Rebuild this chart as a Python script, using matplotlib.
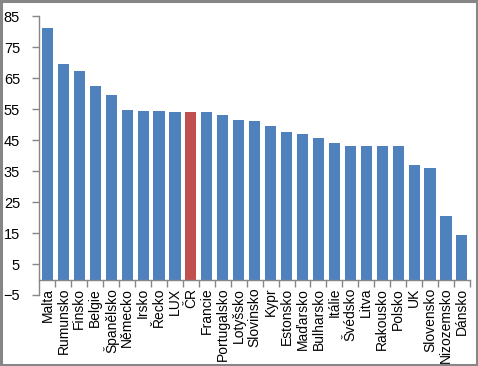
import matplotlib.pyplot as plt
from matplotlib.patches import Rectangle
from matplotlib.ticker import FixedLocator

plt.rcParams['font.family'] = ['Liberation Sans', 'DejaVu Sans']

# země a hodnoty
zeme = ['Malta', 'Rumunsko', 'Finsko', 'Belgie', 'Španělsko', 'Německo', 'Irsko',
        'Řecko', 'LUX', 'ČR', 'Francie', 'Portugalsko', 'Lotyšsko', 'Slovinsko',
        'Kypr', 'Estonsko', 'Maďarsko', 'Bulharsko', 'Itálie', 'Švédsko', 'Litva',
        'Rakousko', 'Polsko', 'UK', 'Slovensko', 'Nizozemsko', 'Dánsko']
hodnoty = [81.0, 69.7, 67.4, 62.3, 59.4, 54.8, 54.5, 54.5, 54.2, 54.2, 54.2, 53.2,
           51.6, 51.0, 49.4, 47.7, 46.8, 45.8, 43.9, 43.2, 43.2, 43.2, 43.2, 36.8,
           36.1, 20.6, 14.2]
zvyraznit = 'ČR'
y_ticks = [-5, 5, 15, 25, 35, 45, 55, 65, 75, 85]

modra = '#4F81BD'
cervena = '#C0504D'
seda = '#868686'

fig = plt.figure(figsize=(4.78, 3.66), dpi=100)
ax = fig.add_axes([0.0826, 0.194, 0.9004, 0.762])

x = list(range(len(zeme)))
barvy = [cervena if z == zvyraznit else modra for z in zeme]
ax.bar(x, hodnoty, width=0.7, color=barvy, zorder=2)

ax.set_xlim(-0.5, len(zeme) - 0.5)
ax.set_ylim(-5, 85)
ax.set_yticks(y_ticks)
ax.tick_params(axis='y', direction='out', length=5, width=1, color=seda,
               labelsize=10.5, pad=9)

ax.spines['bottom'].set_position(('data', 0))
for s in ['top', 'right']:
    ax.spines[s].set_visible(False)
for s in ['left', 'bottom']:
    ax.spines[s].set_color(seda)
    ax.spines[s].set_linewidth(1)

ax.set_xticks(x)
ax.set_xticklabels(zeme, rotation=90, ha='center', va='top', fontsize=10)
ax.tick_params(axis='x', which='major', length=0, pad=6)
ax.xaxis.set_minor_locator(FixedLocator([i + 0.5 for i in range(len(zeme))]))
ax.tick_params(axis='x', which='minor', direction='out', length=5, width=1, color=seda)

fig.patches.append(Rectangle((0.002, 0.003), 0.995, 0.994, transform=fig.transFigure,
                             fill=False, edgecolor=seda, linewidth=2.2))

fig.savefig('out.png', dpi=100)
